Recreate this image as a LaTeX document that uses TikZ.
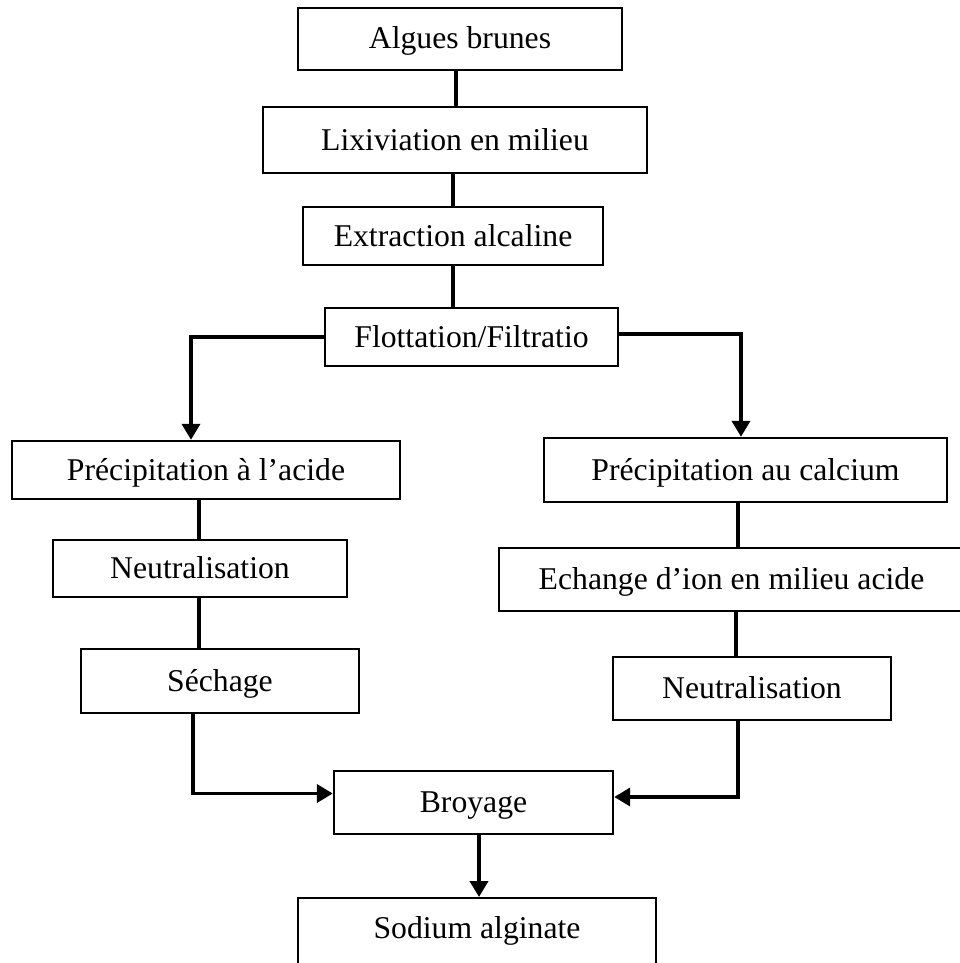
\documentclass[tikz,border=0pt]{standalone}
\usepackage{fontspec}
\setmainfont{Liberation Serif}
\usetikzlibrary{arrows.meta}
\tikzset{
etape/.style={draw,line width=2.4pt,inner sep=0pt,text height=22pt,text depth=2pt,font=\fontsize{31.7}{38}\selectfont},
lien/.style={line width=3.8pt},
fleche/.style={line width=3.8pt,-{Triangle[length=16pt,width=18pt]}}
}
\begin{document}
\begin{tikzpicture}[x=1pt,y=-1pt]
\useasboundingbox (0,0) rectangle (959,963);
% tronc commun
\node[etape,minimum width=324pt,minimum height=62pt](algues) at (460,39){Algues brunes};
\node[etape,minimum width=384pt,minimum height=66pt](lixi) at (455,140){Lixiviation en milieu};
\node[etape,minimum width=300pt,minimum height=58pt](extr) at (453,236){Extraction alcaline};
\node[etape,minimum width=293pt,minimum height=58pt](flott) at (471.5,337){Flottation/Filtratio};
% voie acide
\node[etape,minimum width=388pt,minimum height=58pt](acide) at (206,470){Précipitation à l’acide};
\node[etape,minimum width=294pt,minimum height=57pt](neutreA) at (200,568.5){Neutralisation};
\node[etape,minimum width=278pt,minimum height=64pt](sechage) at (220,681){Séchage};
% voie calcium
\node[etape,minimum width=403pt,minimum height=64pt](calcium) at (745.5,470){Précipitation au calcium};
\node[etape,minimum width=465pt,minimum height=63pt](echange) at (731.5,579.5){Echange d’ion en milieu acide};
\node[etape,minimum width=278pt,minimum height=63pt](neutreB) at (752,688.5){Neutralisation};
% fin
\node[etape,minimum width=279pt,minimum height=63pt](broyage) at (473.5,802.5){Broyage};
\node[etape,minimum width=358pt,anchor=north,inner ysep=19pt,text height=21pt,text depth=20pt](sodium) at (477,897){Sodium alginate};
\foreach \a/\b/\dx in {algues/lixi/-4,lixi/extr/-2,extr/flott/0,acide/neutreA/-7,neutreA/sechage/-1,calcium/echange/-7.5,echange/neutreB/4.5}{\draw[lien]([xshift=\dx pt]\a.south)--([xshift=\dx pt]\a.south |- \b.north);}
\draw[fleche](flott.west)-|([xshift=-15pt]acide.north);
\draw[fleche]([yshift=3pt]flott.east)-|([xshift=-4.5pt]calcium.north);
\draw[fleche]([xshift=-27pt]sechage.south)|-([yshift=9pt]broyage.west);
\draw[fleche]([xshift=-14pt]neutreB.south)|-([yshift=5.5pt]broyage.east);
\draw[fleche]([xshift=5.5pt]broyage.south)--([xshift=5.5pt]broyage.south |- sodium.north);
\end{tikzpicture}
\end{document}
